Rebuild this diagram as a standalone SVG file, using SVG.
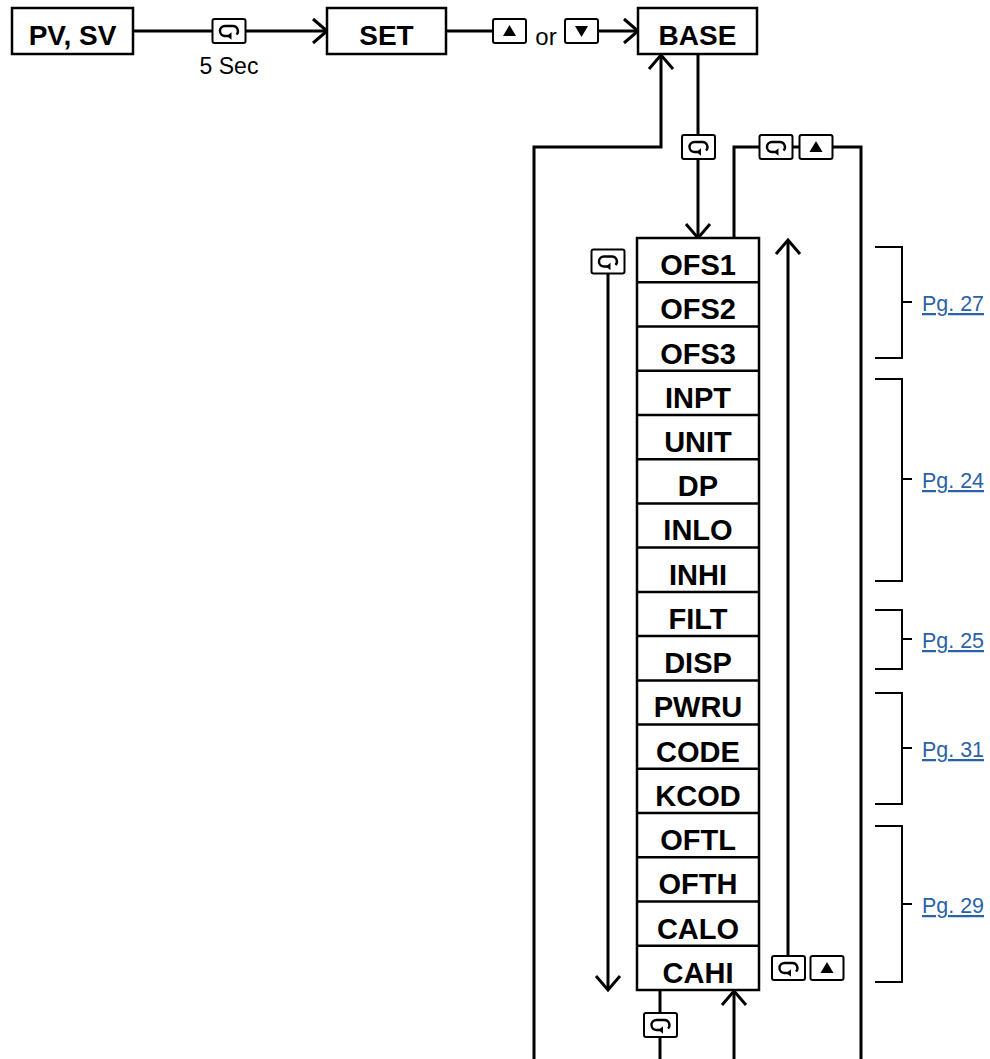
<svg xmlns="http://www.w3.org/2000/svg" xmlns:xlink="http://www.w3.org/1999/xlink" width="990" height="1059" viewBox="0 0 990 1059">
<style>
.box{fill:#fff;stroke:#000;stroke-width:2.5}
.sep{stroke:#000;stroke-width:2.5}
.lbl{font-family:"Liberation Sans",Arial,sans-serif;font-weight:bold;font-size:28px;text-anchor:middle;fill:#000}
.row{font-family:"Liberation Sans",Arial,sans-serif;font-weight:bold;font-size:29px;text-anchor:middle;fill:#000}
.small{font-family:"Liberation Sans",Arial,sans-serif;font-size:23px;text-anchor:middle;fill:#000}
.con{fill:none;stroke:#000;stroke-width:3}
.brk{fill:none;stroke:#000;stroke-width:2}
.pg{font-family:"Liberation Sans",Arial,sans-serif;font-size:22.5px;fill:#2a62a8;text-decoration:underline}
.key{fill:#fff;stroke:#000;stroke-width:2}
</style>
<defs>
<marker id="ah" markerUnits="userSpaceOnUse" viewBox="-17 -15 20 30" markerWidth="20" markerHeight="30" refX="0" refY="0" orient="auto" overflow="visible">
<path d="M-14,-12 L0,0 L-14,12" fill="none" stroke="#000" stroke-width="3"/>
</marker>
<g id="kLoop">
<rect x="-16.5" y="-12" width="33" height="24" rx="2" class="key"/>
<path d="M1,5 H-4 A5,5 0 0 1 -4,-5 H4 A5,5 0 0 1 7.5,3.5" fill="none" stroke="#000" stroke-width="2.4"/>
<path d="M2.5,1.3 L2.5,8.7 L-2,5 Z" fill="#000"/>
</g>
<g id="kUp">
<rect x="-16.5" y="-12" width="33" height="24" rx="2" class="key"/>
<path d="M0,-6 L6.5,5 L-6.5,5 Z" fill="#000"/>
</g>
<g id="kDown">
<rect x="-16.5" y="-12" width="33" height="24" rx="2" class="key"/>
<path d="M-6.5,-5 L6.5,-5 L0,6 Z" fill="#000"/>
</g>
</defs>
<rect width="990" height="1059" fill="#fff"/>

<g id="connectors">
<path class="con" d="M133,31 H212"/>
<path class="con" d="M246,31 H327" marker-end="url(#ah)"/>
<path class="con" d="M446,31 H493"/>
<path class="con" d="M598,31 H638" marker-end="url(#ah)"/>
<path class="con" d="M698,54 V135"/>
<path class="con" d="M698,159 V238" marker-end="url(#ah)"/>
<path class="con" d="M534,1059 V147 H661 V55" marker-end="url(#ah)"/>
<path class="con" d="M734,238 V147 H760"/>
<path class="con" d="M792,147 H800"/>
<path class="con" d="M832,147 H861 V1059"/>
<path class="con" d="M608,273 V990" marker-end="url(#ah)"/>
<path class="con" d="M788,956 V240" marker-end="url(#ah)"/>
<path class="con" d="M660,990 V1013"/>
<path class="con" d="M660,1037 V1059"/>
<path class="con" d="M734,1059 V991" marker-end="url(#ah)"/>
</g>

<g id="keys">
<use xlink:href="#kLoop" href="#kLoop" x="229" y="31"/>
<use xlink:href="#kUp" href="#kUp" x="509.5" y="31"/>
<use xlink:href="#kDown" href="#kDown" x="581.5" y="31"/>
<use xlink:href="#kLoop" href="#kLoop" x="698.5" y="147"/>
<use xlink:href="#kLoop" href="#kLoop" x="776" y="147"/>
<use xlink:href="#kUp" href="#kUp" x="816" y="147"/>
<use xlink:href="#kLoop" href="#kLoop" x="608" y="261.5"/>
<use xlink:href="#kLoop" href="#kLoop" x="788.5" y="968"/>
<use xlink:href="#kUp" href="#kUp" x="827" y="968"/>
<use xlink:href="#kLoop" href="#kLoop" x="660.5" y="1025"/>
</g>
<text class="small" x="229" y="74">5 Sec</text>
<text class="small" x="546" y="45" style="font-size:24px">or</text>

<g id="node-pvsv"><rect class="box" x="12" y="8" width="121" height="46"/><text class="lbl" x="72.5" y="45">PV, SV</text></g>
<g id="node-set"><rect class="box" x="327" y="8" width="119" height="46"/><text class="lbl" x="386.5" y="45">SET</text></g>
<g id="node-base"><rect class="box" x="638" y="8" width="119" height="46"/><text class="lbl" x="697.5" y="45">BASE</text></g>

<g id="node-list">
<rect class="box" x="637" y="238" width="122" height="752"/>
<g class="sep">
<line x1="637" y1="282.2" x2="759" y2="282.2"/>
<line x1="637" y1="326.5" x2="759" y2="326.5"/>
<line x1="637" y1="370.7" x2="759" y2="370.7"/>
<line x1="637" y1="414.9" x2="759" y2="414.9"/>
<line x1="637" y1="459.2" x2="759" y2="459.2"/>
<line x1="637" y1="503.4" x2="759" y2="503.4"/>
<line x1="637" y1="547.6" x2="759" y2="547.6"/>
<line x1="637" y1="591.9" x2="759" y2="591.9"/>
<line x1="637" y1="636.1" x2="759" y2="636.1"/>
<line x1="637" y1="680.4" x2="759" y2="680.4"/>
<line x1="637" y1="724.6" x2="759" y2="724.6"/>
<line x1="637" y1="768.8" x2="759" y2="768.8"/>
<line x1="637" y1="813.1" x2="759" y2="813.1"/>
<line x1="637" y1="857.3" x2="759" y2="857.3"/>
<line x1="637" y1="901.5" x2="759" y2="901.5"/>
<line x1="637" y1="945.8" x2="759" y2="945.8"/>
</g>
<text class="row" x="698" y="275">OFS1</text>
<text class="row" x="698" y="319.2">OFS2</text>
<text class="row" x="698" y="363.5">OFS3</text>
<text class="row" x="698" y="407.7">INPT</text>
<text class="row" x="698" y="451.9">UNIT</text>
<text class="row" x="698" y="496.2">DP</text>
<text class="row" x="698" y="540.4">INLO</text>
<text class="row" x="698" y="584.6">INHI</text>
<text class="row" x="698" y="628.9">FILT</text>
<text class="row" x="698" y="673.1">DISP</text>
<text class="row" x="698" y="717.4">PWRU</text>
<text class="row" x="698" y="761.6">CODE</text>
<text class="row" x="698" y="805.8">KCOD</text>
<text class="row" x="698" y="850.1">OFTL</text>
<text class="row" x="698" y="894.3">OFTH</text>
<text class="row" x="698" y="938.5">CALO</text>
<text class="row" x="698" y="982.8">CAHI</text>
</g>

<g id="brackets">
<path class="brk" d="M875,247 H902 V358 H875 M902,302 H912"/>
<text class="pg" x="922" y="311" textLength="62" lengthAdjust="spacingAndGlyphs">Pg. 27</text>
<path class="brk" d="M875,379 H902 V581 H875 M902,479 H912"/>
<text class="pg" x="922" y="488" textLength="62" lengthAdjust="spacingAndGlyphs">Pg. 24</text>
<path class="brk" d="M875,610 H902 V669 H875 M902,639 H912"/>
<text class="pg" x="922" y="648" textLength="62" lengthAdjust="spacingAndGlyphs">Pg. 25</text>
<path class="brk" d="M875,693 H902 V804 H875 M902,748 H912"/>
<text class="pg" x="922" y="757" textLength="62" lengthAdjust="spacingAndGlyphs">Pg. 31</text>
<path class="brk" d="M875,826 H902 V982 H875 M902,904 H912"/>
<text class="pg" x="922" y="913" textLength="62" lengthAdjust="spacingAndGlyphs">Pg. 29</text>
</g>
</svg>
